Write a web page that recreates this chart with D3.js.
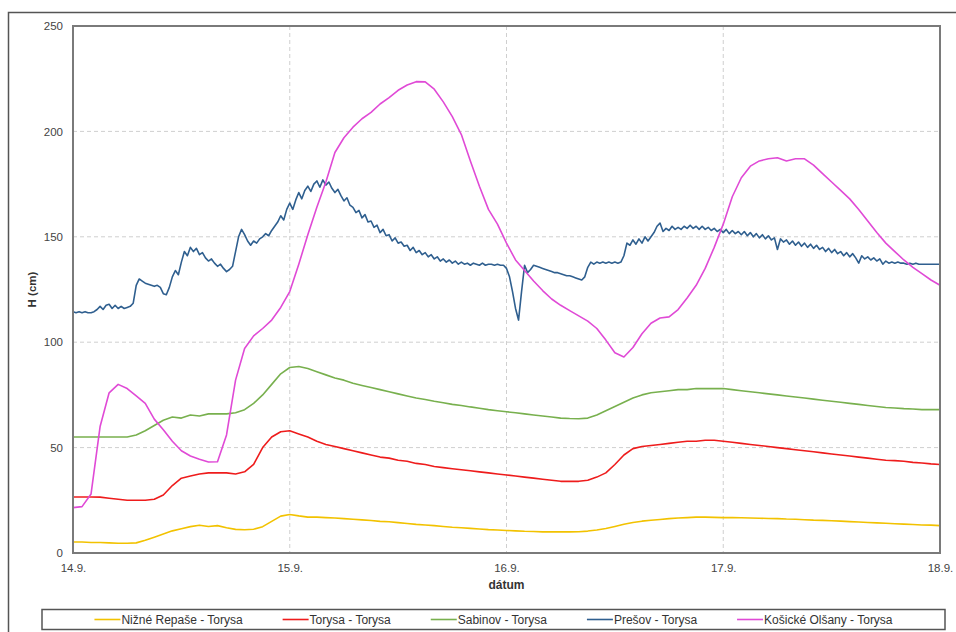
<!DOCTYPE html>
<html>
<head>
<meta charset="utf-8">
<script src="https://cdn.jsdelivr.net/npm/d3@7"></script>
<style>
  html, body { margin: 0; padding: 0; background: #fff; }
  svg { display: block; font-family: "Liberation Sans", Arial, sans-serif; }
</style>
</head>
<body>
<svg id="chart" width="956" height="632"></svg>
<script>
// ---- data ----
const xTickHours = [0, 24, 48, 72, 96];
const xTickLabels = ["14.9.", "15.9.", "16.9.", "17.9.", "18.9."];
const yTicks = [0, 50, 100, 150, 200, 250];
const seriesNames = ["Nižné Repaše - Torysa", "Torysa - Torysa", "Sabinov - Torysa", "Prešov - Torysa", "Košické Olšany - Torysa"];
const seriesColors = ["#f2c200", "#ee1c1c", "#78b04e", "#2f5f8f", "#e04ad6"];
const stepHours = [1, 1, 1, 1 / 3, 1];

// hourly values from 14.9. 00:00
const nizneRepase = [5.2,5.2,5.0,5.0,4.8,4.6,4.6,4.8,6.0,7.5,
 9.0,10.5,11.5,12.5,13.2,12.6,13.0,12.0,11.2,11.0,
 11.3,12.5,15.0,17.5,18.3,17.6,17.0,17.0,16.8,16.6,
 16.3,16.0,15.7,15.4,15.0,14.8,14.4,14.0,13.6,13.3,
 13.0,12.6,12.2,12.0,11.7,11.4,11.1,10.9,10.7,10.5,
 10.3,10.2,10.0,10.0,10.0,10.0,10.1,10.4,10.9,11.6,
 12.6,13.6,14.5,15.1,15.5,15.9,16.3,16.6,16.8,17.0,
 17.0,16.9,16.8,16.8,16.7,16.6,16.5,16.4,16.3,16.1,
 16.0,15.8,15.6,15.5,15.3,15.1,14.9,14.7,14.5,14.3,
 14.1,13.9,13.7,13.5,13.3,13.2,13.0];

const torysa = [26.6,26.6,26.6,26.5,26.0,25.5,25.0,25.0,25.0,25.5,
 27.5,32.0,35.5,36.5,37.5,38.0,38.0,38.0,37.5,38.5,
 42.0,50.0,55.0,57.5,58.0,56.5,55.0,53.0,51.5,50.5,
 49.5,48.5,47.5,46.5,45.5,45.0,44.0,43.5,42.5,42.0,
 41.0,40.5,40.0,39.5,39.0,38.5,38.0,37.5,37.0,36.5,
 36.0,35.5,35.0,34.5,34.0,34.0,34.0,34.5,36.0,38.0,
 42.0,46.5,49.5,50.5,51.0,51.5,52.0,52.5,53.0,53.0,
 53.5,53.5,53.0,52.5,52.0,51.5,51.0,50.5,50.0,49.5,
 49.0,48.5,48.0,47.5,47.0,46.5,46.0,45.5,45.0,44.5,
 44.0,43.8,43.5,43.0,42.7,42.3,42.0];

const sabinov = [55,55,55,55,55,55,55,56,58,60.5,
 63,64.5,64,65.5,65,66,66,66,66.5,68,
 71,75,80,85,88,88.5,87.5,86,84.5,83,
 82,80.5,79.5,78.5,77.5,76.5,75.5,74.5,73.5,72.8,
 72,71.3,70.5,70,69.3,68.7,68,67.5,67,66.5,
 66,65.5,65,64.5,64,63.8,63.7,64,65.5,67.5,
 69.5,71.5,73.5,75,76,76.5,77,77.5,77.5,78,
 78,78,78,77.5,77,76.5,76,75.5,75,74.5,
 74,73.5,73,72.5,72,71.5,71,70.5,70,69.5,
 69,68.8,68.5,68.3,68,68,68];

// 20-minute values
const presov = [
 114.5,114.0,114.5, 114.0,114.5,114.0, 114.0,114.5,115.5, 117.0,115.5,117.5,
 118.0,116.0,117.5, 116.0,117.0,116.0, 116.5,117.0,118.5, 127.0,130.0,129.0,
 128.0,127.5,127.0, 126.5,127.0,126.0, 123.0,122.5,126.0, 131.0,134.0,132.0,
 138.0,143.0,141.0, 145.0,143.0,144.5, 141.5,142.5,140.0, 138.5,139.5,137.5,
 136.0,137.0,135.0, 133.5,134.5,136.0, 143.0,150.0,153.5, 151.0,148.0,146.0,
 148.0,147.0,149.0, 150.0,151.5,150.5, 153.0,155.0,157.0, 160.0,158.0,163.0,
 166.0,163.0,167.5, 171.0,168.0,172.0, 174.0,171.5,175.0, 176.5,173.5,177.0,
 174.5,176.0,173.0, 171.0,172.5,169.5, 167.0,168.5,165.0, 164.0,161.5,162.5,
 159.0,160.5,157.0, 157.5,154.5,155.5, 152.0,153.5,150.5, 151.0,148.0,149.5,
 147.0,147.5,145.5, 146.0,143.5,145.0, 142.5,143.5,141.5, 142.5,140.5,141.5,
 139.5,140.5,138.5, 139.5,138.0,139.0, 137.5,138.5,137.0, 138.0,137.0,137.5,
 136.5,137.5,137.0, 136.5,137.5,136.5, 137.0,137.0,136.5, 137.0,136.5,136.5,
 135.0,131.0,124.0, 116.0,110.5,124.0, 136.5,133.0,134.5, 136.5,136.0,135.5,
 135.0,134.5,134.0, 133.5,133.0,133.0, 132.5,132.0,131.5, 131.5,131.0,130.5,
 130.0,129.5,131.0, 135.5,138.0,137.0, 138.0,137.5,138.0, 137.5,138.0,137.5,
 138.0,137.5,138.0, 141.0,147.0,146.0, 148.5,146.5,149.0, 147.0,150.0,148.0,
 150.0,152.0,155.0, 156.5,152.5,154.0, 153.0,155.0,153.5, 154.5,153.5,155.0,
 154.0,155.5,154.0, 155.0,153.5,155.0, 153.5,154.5,153.0, 154.0,152.5,153.5,
 152.0,153.5,151.5, 153.0,151.5,152.5, 151.0,152.5,150.5, 152.0,150.0,151.5,
 149.5,151.0,149.0, 150.5,148.5,149.5, 144.0,149.0,147.5, 148.5,146.5,148.0,
 146.0,147.5,145.5, 147.0,145.0,146.5, 144.5,146.0,144.0, 145.0,143.0,144.5,
 142.5,144.0,142.0, 143.0,141.0,142.5, 140.5,142.0,140.0, 137.5,141.0,139.5,
 140.5,139.0,140.0, 138.5,139.5,137.0, 138.5,137.5,138.0, 137.5,138.0,137.5,
 137.5,137.0,137.5, 137.0,137.5,137.0, 137.0,137.0,137.0, 137.0,137.0,137.0,
 137.0];

const kosickeOlsany = [21.5,22,28,60,76,80,78,74.5,71,63.5,
 58.5,53,48.5,46,44.5,43.2,43.3,56,82,97,
 103,106.5,110.5,116.5,124,137,151,164,176,190,
 197,202,206,209,213,216,219.5,222,223.6,223.5,
 220,214,207,198.5,186,174,163,156,147,139,
 134,129,124.5,120.5,117.5,115,112.5,110,106.5,101,
 95,93,97.5,104,109,111.5,112,115.5,121,127,
 135,145,156,169,178,183.5,186,187,187.5,186,
 187,187,184,180,176,172,168,163,157.5,152,
 147,143,139,135.5,132.5,129.5,127];

const seriesValues = [nizneRepase, torysa, sabinov, presov, kosickeOlsany];

// ---- layout ----
const svg = d3.select("#chart");
const plot = { left: 73, right: 940, top: 26, bottom: 553 };

const x = d3.scaleLinear().domain([0, 96]).range([plot.left, plot.right]);
const y = d3.scaleLinear().domain([0, 250]).range([plot.bottom, plot.top]);

// outer frame (partially visible)
svg.append("path")
  .attr("d", `M8.5,632 L8.5,12.5 L956,12.5`)
  .attr("fill", "none").attr("stroke", "#555").attr("stroke-width", 1.5);

// grid
const grid = svg.append("g");
grid.selectAll("line.h").data(yTicks.filter(v => v > 0 && v < 250)).join("line")
  .attr("x1", plot.left).attr("x2", plot.right)
  .attr("y1", d => y(d)).attr("y2", d => y(d))
  .attr("stroke", "#cfcfcf").attr("stroke-width", 1).attr("stroke-dasharray", "4,3");
grid.selectAll("line.v").data(xTickHours.filter(v => v > 0 && v < 96)).join("line")
  .attr("y1", plot.top).attr("y2", plot.bottom)
  .attr("x1", d => x(d)).attr("x2", d => x(d))
  .attr("stroke", "#cfcfcf").attr("stroke-width", 1).attr("stroke-dasharray", "4,3");

// clip
svg.append("defs").append("clipPath").attr("id", "clip")
  .append("rect").attr("x", plot.left).attr("y", plot.top)
  .attr("width", plot.right - plot.left).attr("height", plot.bottom - plot.top);

const lines = svg.append("g").attr("clip-path", "url(#clip)");
seriesValues.forEach((vals, si) => {
  const step = stepHours[si];
  const line = d3.line().x((d, i) => x(i * step)).y(d => y(d));
  lines.append("path").datum(vals)
    .attr("d", line)
    .attr("fill", "none")
    .attr("stroke", seriesColors[si])
    .attr("stroke-width", 1.6)
    .attr("stroke-linejoin", "round");
});

// plot frame
svg.append("rect")
  .attr("x", plot.left).attr("y", plot.top)
  .attr("width", plot.right - plot.left).attr("height", plot.bottom - plot.top)
  .attr("fill", "none").attr("stroke", "#7a7a7a").attr("stroke-width", 2);

// axes
const yAxis = d3.axisLeft(y).tickValues(yTicks).tickSize(0).tickPadding(10);
const yG = svg.append("g").attr("transform", `translate(${plot.left},0)`).call(yAxis);
yG.select(".domain").remove();
yG.selectAll("text").attr("font-size", 11.5).attr("fill", "#444")
  .attr("font-family", "Liberation Sans, Arial, sans-serif");

const xAxis = d3.axisBottom(x).tickValues(xTickHours).tickSize(0).tickPadding(11)
  .tickFormat((d, i) => xTickLabels[i]);
const xG = svg.append("g").attr("transform", `translate(0,${plot.bottom})`).call(xAxis);
xG.select(".domain").remove();
xG.selectAll("text").attr("font-size", 11.5).attr("fill", "#444")
  .attr("font-family", "Liberation Sans, Arial, sans-serif");

// axis titles
svg.append("text")
  .attr("x", (plot.left + plot.right) / 2).attr("y", 589)
  .attr("text-anchor", "middle").attr("font-size", 12).attr("font-weight", "bold")
  .attr("fill", "#333").text("dátum");
svg.append("text")
  .attr("transform", `translate(36,${(plot.top + plot.bottom) / 2}) rotate(-90)`)
  .attr("text-anchor", "middle").attr("font-size", 11.5).attr("font-weight", "bold")
  .attr("fill", "#333").text("H (cm)");

// legend
const legBox = { x: 42, y: 609.5, w: 903, h: 20 };
svg.append("rect").attr("x", legBox.x).attr("y", legBox.y)
  .attr("width", legBox.w).attr("height", legBox.h)
  .attr("fill", "#fff").attr("stroke", "#555").attr("stroke-width", 1.5);
const legG = svg.append("g");
const items = seriesNames.map((name, i) => {
  const g = legG.append("g");
  g.append("line").attr("x1", 0).attr("x2", 26).attr("y1", 0).attr("y2", 0)
    .attr("stroke", seriesColors[i]).attr("stroke-width", 1.6);
  const t = g.append("text").attr("x", 27).attr("y", 4).attr("font-size", 12)
    .attr("fill", "#333").text(name);
  return { g, w: 27 + t.node().getComputedTextLength() };
});
const gap = 40;
const total = d3.sum(items, d => d.w) + gap * (items.length - 1);
let cx = legBox.x + (legBox.w - total) / 2;
items.forEach(it => {
  it.g.attr("transform", `translate(${cx},${legBox.y + legBox.h / 2})`);
  cx += it.w + gap;
});
</script>
</body>
</html>
